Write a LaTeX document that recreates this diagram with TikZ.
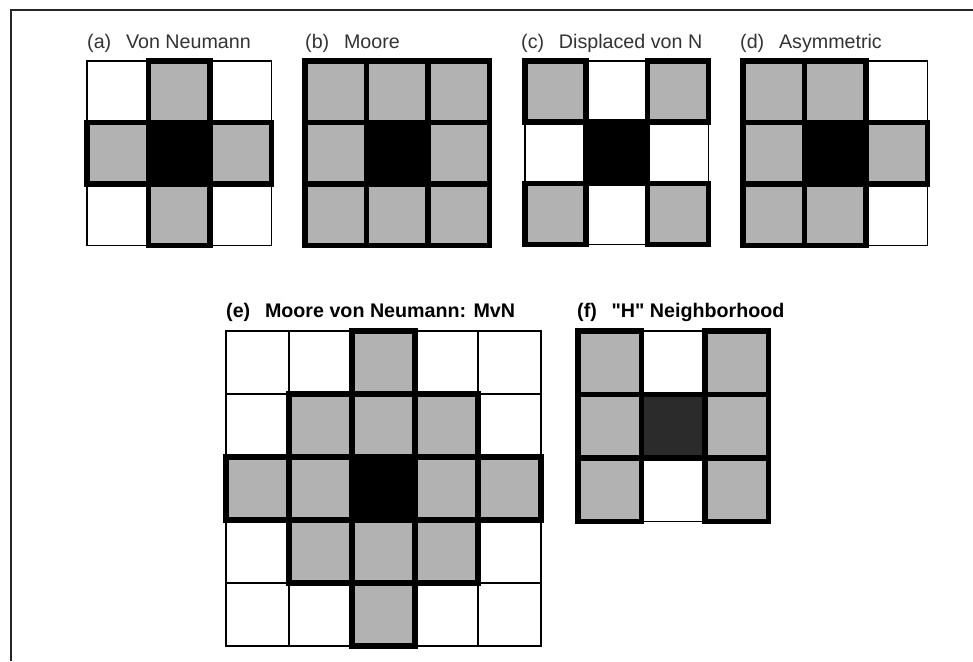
\documentclass[tikz,border=0pt]{standalone}
\usepackage{fontspec}
\setmainfont{Liberation Sans}
\usepackage{tikz}
\usepackage{xcolor}
\usetikzlibrary{positioning,calc}

\definecolor{cellgray}{HTML}{B2B2B2}
\definecolor{hcentre}{HTML}{2B2B2B}

% #1,#2 top-left (px), #3 cell size, #4 cells per side,
% #5 gray cells i/j, #6/#7 centre cell, #8 centre colour
\newcommand{\nbhd}[8]{%
  \begin{scope}[xshift={#1*0.03cm}, yshift={-#2*0.03cm}, x={#3*0.03cm}, y={-#3*0.03cm}]
    \foreach \i/\j in {#5} \fill[cellgray] (\i,\j) rectangle ++(1,1);
    \fill[#8] (#6,#7) rectangle ++(1,1);
    \foreach \k in {0,...,#4} {
      \draw[thinline] (\k,0) -- (\k,#4);
      \draw[thinline] (0,\k) -- (#4,\k);
    }
    \foreach \i/\j in {#5,#6/#7} \draw[thickline] (\i,\j) rectangle ++(1,1);
  \end{scope}}

\begin{document}
\begin{tikzpicture}[
          x=0.03cm, y=-0.03cm,
          lbl/.style={font=\fontsize{16.8}{20}\selectfont, text=black!80, anchor=west, inner sep=0pt},
          lblbold/.style={lbl, font=\fontsize{16.8}{20}\selectfont\bfseries, text=black},
          thinline/.style={line width=1.5pt, black, line cap=rect},
          thickline/.style={line width=4.8pt, black, line join=miter},
          frameline/.style={line width=1.7pt, black!85}
      ]
        \useasboundingbox (0,0) rectangle (973,661);
        \draw[frameline] (11,661) -- (11,10) -- (973,10);
        % top row
        \node[lbl] (lbla) at (87,43) {(a)\hspace{0.75em}Von Neumann};
        \node[lbl] (lblb) at (305,43) {(b)\hspace{0.75em}Moore};
        \node[lbl] (lblc) at (521,43) {(c)\hspace{0.75em}Displaced von N};
        \node[lbl] (lbld) at (740,43) {(d)\hspace{0.75em}Asymmetric};
        \nbhd{87}{61}{61.5}{3}{1/0,0/1,2/1,1/2}{1}{1}{black}
        \nbhd{305}{61}{61.5}{3}{0/0,1/0,2/0,0/1,2/1,0/2,1/2,2/2}{1}{1}{black}
        \nbhd{525}{61}{61.2}{3}{0/0,2/0,0/2,2/2}{1}{1}{black}
        \nbhd{743}{61}{61.5}{3}{0/0,1/0,0/1,2/1,0/2,1/2}{1}{1}{black}
        % bottom row
        \node[lblbold] (lble) at (226,312) {(e)\hspace{0.75em}Moore von Neumann: MvN};
        \node[lblbold] (lblf) at (577,312) {(f)\hspace{0.75em}\textquotedbl H\textquotedbl{} Neighborhood};
        \nbhd{226}{331}{63}{5}{2/0,1/1,2/1,3/1,0/2,1/2,3/2,4/2,1/3,2/3,3/3,2/4}{2}{2}{black}
        \nbhd{578}{331}{63.5}{3}{0/0,2/0,0/1,2/1,0/2,2/2}{1}{1}{hcentre}
      \end{tikzpicture}
\end{document}
